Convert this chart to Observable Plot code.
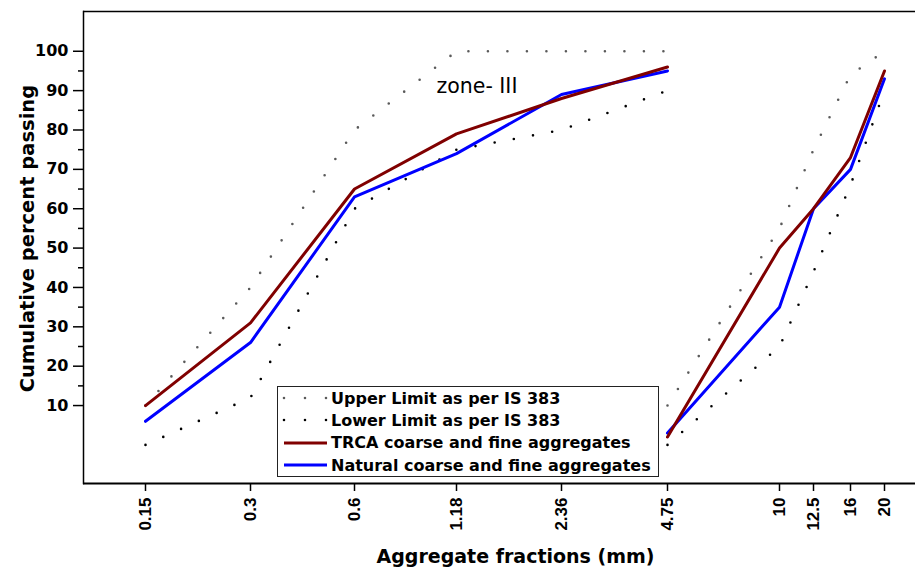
<!DOCTYPE html>
<html>
<head>
<meta charset="utf-8">
<script src="https://cdn.jsdelivr.net/npm/d3@7"></script>
<script src="https://cdn.jsdelivr.net/npm/@observablehq/plot@0.6"></script>
<style>
  html, body { margin: 0; padding: 0; background: #fff; }
  body { font-family: "Liberation Sans", Arial, sans-serif; }
  #wrap { position: relative; width: 915px; height: 569px; overflow: hidden; }
  #legend {
    position: absolute; left: 277px; top: 386px; width: 382px; height: 91px;
    box-sizing: border-box; border: 1px solid #222; background: #fff;
  }
  .row { height: 22.3px; display: flex; align-items: center; }
  .row svg { width: 48px; height: 10px; flex: none; margin-left: 2px; }
  .row span { font-family: "DejaVu Sans", sans-serif; font-weight: bold; font-size: 16px; color: #000; margin-left: 3px; white-space: nowrap; }
</style>
</head>
<body>
<div id="wrap"></div>
<script>
// ---- data ----
const tickSizes = [0.15, 0.3, 0.6, 1.18, 2.36, 4.75, 10, 12.5, 16, 20];
const tickLabels = ["0.15", "0.3", "0.6", "1.18", "2.36", "4.75", "10", "12.5", "16", "20"];
const fineSizes = [0.15, 0.3, 0.6, 1.18, 2.36, 4.75];
const coarseSizes = [4.75, 10, 12.5, 16, 20];

const upperFine = [10, 40, 80, 100, 100, 100];
const lowerFine = [0, 12, 60, 75, 80, 90];
const trcaFine = [10, 31, 65, 79, 88, 96];
const naturalFine = [6, 26, 63, 74, 89, 95];

const upperCoarse = [10, 55, 75, 94, 100];
const lowerCoarse = [0, 25, 44, 66, 90];
const trcaCoarse = [2, 50, 60, 73, 95];
const naturalCoarse = [3, 35, 60, 70, 93];

const yMajorTicks = [10, 20, 30, 40, 50, 60, 70, 80, 90, 100];
const yMinorTicks = [15, 25, 35, 45, 55, 65, 75, 85, 95];
const yDomain = [-9.8, 110.1];

const seriesNames = [
  "Upper Limit as per IS 383",
  "Lower Limit as per IS 383",
  "TRCA coarse and fine aggregates",
  "Natural coarse and fine aggregates"
];
const zoneLabel = ["zone- III"];
const xTitle = "Aggregate fractions (mm)";
const yTitle = "Cumulative percent passing";

// ---- build tables ----
function table(name, sizes, values, part) {
  return sizes.map((s, i) => ({series: name, part, size: s, value: values[i]}));
}
const upper = [...table(seriesNames[0], fineSizes, upperFine, "fine"), ...table(seriesNames[0], coarseSizes, upperCoarse, "coarse")];
const lower = [...table(seriesNames[1], fineSizes, lowerFine, "fine"), ...table(seriesNames[1], coarseSizes, lowerCoarse, "coarse")];
const trca = [...table(seriesNames[2], fineSizes, trcaFine, "fine"), ...table(seriesNames[2], coarseSizes, trcaCoarse, "coarse")];
const natural = [...table(seriesNames[3], fineSizes, naturalFine, "fine"), ...table(seriesNames[3], coarseSizes, naturalCoarse, "coarse")];

const colors = {upper: "#5a5a5a", lower: "#000000", trca: "#800000", natural: "#0000ff"};
const wide = "'DejaVu Sans', sans-serif";

const chart = Plot.plot({
  width: 915,
  height: 569,
  marginLeft: 83,
  marginRight: 0,
  marginTop: 11,
  marginBottom: 86,
  style: {fontFamily: "'Liberation Sans', Arial, sans-serif", background: "#fff", color: "#000"},
  x: {type: "linear", domain: tickSizes, range: [145, 250, 354, 456, 561, 667, 779, 813, 850, 884], axis: null},
  y: {domain: yDomain, axis: null},
  marks: [
    Plot.ruleY([yDomain[0]], {stroke: "#000", strokeWidth: 2}),
    Plot.ruleY([yDomain[1]], {stroke: "#000", strokeWidth: 1.5}),
    Plot.frame({anchor: "left", stroke: "#000", strokeWidth: 1.5}),
    Plot.axisY(yMajorTicks, {tickSize: 10, tickPadding: 5, fontSize: 16, fontFamily: wide, fontWeight: "bold", label: null, strokeWidth: 1.5}),
    Plot.axisY(yMinorTicks, {tickSize: 5, tickFormat: () => "", label: null, strokeWidth: 1.5}),
    Plot.axisX(tickSizes, {tickSize: 8, tickPadding: 6, tickRotate: -90, fontSize: 17, fontWeight: "bold", label: null, strokeWidth: 1.5,
      tickFormat: (d) => tickLabels[tickSizes.indexOf(d)]}),
    Plot.line(upper, {x: "size", y: "value", z: "part", stroke: colors.upper, strokeWidth: 2.6, strokeDasharray: "0,19.5", strokeLinecap: "round"}),
    Plot.line(lower, {x: "size", y: "value", z: "part", stroke: colors.lower, strokeWidth: 2.6, strokeDasharray: "0,19.5", strokeLinecap: "round"}),
    Plot.line(natural, {x: "size", y: "value", z: "part", stroke: colors.natural, strokeWidth: 3}),
    Plot.line(trca, {x: "size", y: "value", z: "part", stroke: colors.trca, strokeWidth: 3}),
    Plot.text(zoneLabel, {x: fineSizes[3], y: upperFine[3] - 9, dx: -20, textAnchor: "start", fontSize: 20.5, fontFamily: wide, fill: "#000"}),
    Plot.text([xTitle], {frameAnchor: "bottom", textAnchor: "middle", lineAnchor: "middle", dx: 16, dy: 73, fontSize: 19, fontFamily: wide, fontWeight: "bold", fill: "#000"}),
    Plot.text([yTitle], {frameAnchor: "left", textAnchor: "middle", lineAnchor: "middle", rotate: -90, dx: -56, dy: -9, fontSize: 19.5, fontFamily: wide, fontWeight: "bold", fill: "#000"})
  ]
});

const wrap = document.getElementById("wrap");
wrap.appendChild(chart);

// legend (inside the plot area, as in the reference)
const legend = document.createElement("div");
legend.id = "legend";
const legendStyles = [
  {stroke: colors.upper, dash: "0,21", width: 2.6, cap: "round"},
  {stroke: colors.lower, dash: "0,21", width: 2.6, cap: "round"},
  {stroke: colors.trca, dash: null, width: 3, cap: "butt"},
  {stroke: colors.natural, dash: null, width: 3, cap: "butt"}
];
seriesNames.forEach((name, i) => {
  const row = document.createElement("div");
  row.className = "row";
  const s = legendStyles[i];
  const svg = d3.create("svg").attr("viewBox", "0 0 48 10");
  svg.append("line").attr("x1", 4).attr("x2", 47).attr("y1", 5).attr("y2", 5)
    .attr("stroke", s.stroke).attr("stroke-width", s.width).attr("stroke-linecap", s.cap)
    .attr("stroke-dasharray", s.dash);
  row.appendChild(svg.node());
  const span = document.createElement("span");
  span.textContent = name;
  row.appendChild(span);
  legend.appendChild(row);
});
wrap.appendChild(legend);
</script>
</body>
</html>
